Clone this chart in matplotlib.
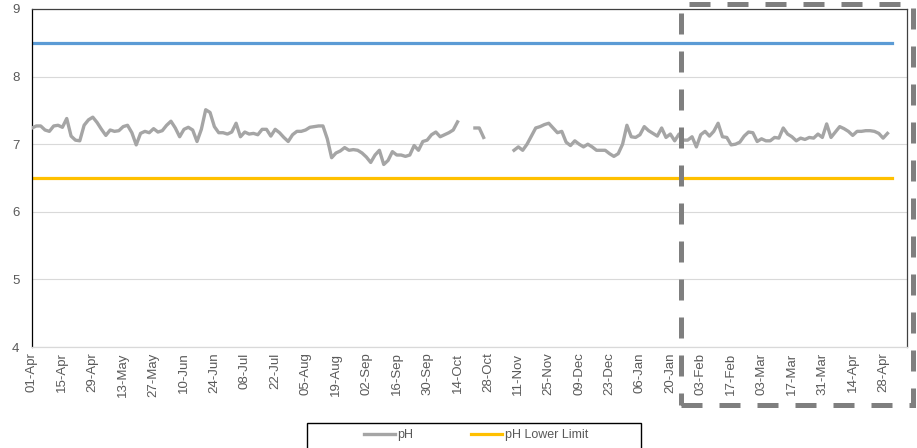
import matplotlib
matplotlib.use('Agg')
import matplotlib.pyplot as plt
import matplotlib.dates as mdates
from matplotlib.patches import Rectangle
import numpy as np
import pandas as pd

start_date = '2018-04-01'
last_date = '2019-05-02'
axis_end = '2019-05-09'
highlight_start = '2019-01-25'
ph_upper = 8.5
ph_lower = 6.5

# pH readings, one every 2 days from start_date (None = no reading)
ph = [
    7.24, 7.27, 7.27, 7.21, 7.19, 7.27, 7.28, 7.25, 7.38, 7.12,
    7.06, 7.05, 7.28, 7.36, 7.40, 7.32, 7.22, 7.13, 7.21, 7.19,
    7.20, 7.26, 7.28, 7.17, 6.99, 7.16, 7.19, 7.17, 7.23, 7.18,
    7.20, 7.28, 7.34, 7.24, 7.11,
    7.22, 7.25, 7.21, 7.04, 7.22, 7.51, 7.47, 7.26, 7.17, 7.17,
    7.15, 7.18, 7.31, 7.11, 7.18, 7.15, 7.16, 7.14, 7.22, 7.22,
    7.12, 7.22, 7.17, 7.10, 7.04, 7.14, 7.19, 7.19, 7.21, 7.25,
    7.26, 7.27, 7.27,
    7.08, 6.80, 6.87, 6.90, 6.95, 6.91, 6.92, 6.91, 6.87, 6.81,
    6.73, 6.84, 6.91, 6.70, 6.76, 6.89, 6.84, 6.84, 6.82, 6.84,
    6.98, 6.91, 7.04, 7.06, 7.14, 7.18, 7.11, 7.14, 7.17, 7.21,
    7.33,
    None, None, None,
    7.24, 7.24, 7.10,
    None, None, None, None, None, None,
    6.91, 6.96, 6.91, 7.00, 7.12, 7.24, 7.26, 7.29, 7.31, 7.24,
    7.17, 7.19, 7.03, 6.98, 7.05, 7.00, 6.96, 7.00, 6.96, 6.91,
    6.91, 6.91, 6.86, 6.82,
    6.86, 7.00, 7.28, 7.11, 7.10, 7.14, 7.26, 7.20, 7.16, 7.12,
    7.24, 7.10, 7.15, 7.05, 7.15, 7.06, 7.06, 7.11, 6.96, 7.14,
    7.19, 7.12, 7.19, 7.31, 7.11, 7.10, 6.99, 7.00, 7.03, 7.12,
    7.18, 7.17, 7.04, 7.08, 7.05, 7.05, 7.10, 7.09, 7.24, 7.15,
    7.11, 7.05, 7.09, 7.07, 7.10, 7.09, 7.15, 7.10, 7.30, 7.10,
    7.18, 7.26, 7.23, 7.19, 7.13, 7.19, 7.19, 7.20, 7.20, 7.19,
    7.16, 7.09, 7.16,
]

dates = pd.date_range(start_date, periods=len(ph), freq='2D')
ph = np.array(ph, dtype=float)
limit_x = [pd.Timestamp(start_date), pd.Timestamp(last_date)]

plt.rcParams['font.family'] = ['Liberation Sans', 'DejaVu Sans']
text_col = '#595959'

fig = plt.figure(figsize=(9.17, 4.48), dpi=100)
ax = fig.add_axes([32 / 917, 1 - 347 / 448, 875 / 917, 338 / 448])

# series
ax.plot(dates, ph, color='#a5a5a5', lw=2.4, label='pH', zorder=3)
ax.plot(limit_x, [ph_upper, ph_upper], color='#5b9bd5', lw=2.3,
        label='pH Upper Limit', zorder=2)
ax.plot(limit_x, [ph_lower, ph_lower], color='#ffc000', lw=2.3,
        label='pH Lower Limit', zorder=2)

# axes
ax.set_ylim(4, 9)
ax.set_yticks(range(4, 10))
ax.set_xlim(pd.Timestamp(start_date), pd.Timestamp(axis_end))
ax.set_xticks(pd.date_range(start_date, axis_end, freq='14D'))
ax.xaxis.set_major_formatter(mdates.DateFormatter('%d-%b'))
ax.tick_params(axis='x', rotation=90, length=0, pad=4, labelsize=9.5,
               labelcolor=text_col)
ax.tick_params(axis='y', length=0, pad=9, labelsize=9.5, labelcolor=text_col)
ax.grid(axis='y', color='#d9d9d9', lw=0.8)
ax.set_axisbelow(True)
ax.spines['left'].set_color('black')
ax.spines['bottom'].set_color('#d9d9d9')
ax.spines['top'].set_color('#404040')
ax.spines['right'].set_color('#404040')
for s in ax.spines.values():
    s.set_linewidth(0.9)

# dashed highlight box
fig.canvas.draw()
x_disp = ax.transData.transform(
    (mdates.date2num(pd.Timestamp(highlight_start)), 0))[0]
left = fig.transFigure.inverted().transform((x_disp, 0))[0]
right = 913 / 917
top = 1 - 4 / 448
bottom = 1 - 405 / 448
box = Rectangle((left, bottom), right - left, top - bottom,
                transform=fig.transFigure, fill=False, edgecolor='#7f7f7f',
                lw=3.6, linestyle=(0, (4.2, 3.4)), clip_on=False, zorder=10)
fig.patches.append(box)

# legend
handles, labels = ax.get_legend_handles_labels()
keep = [0, 2]
leg = fig.legend([handles[i] for i in keep], [labels[i] for i in keep],
                 loc='center', bbox_to_anchor=(476 / 917, 1 - 435 / 448),
                 ncol=2, frameon=False, fontsize=9, handlelength=2.5,
                 handletextpad=0.2, columnspacing=4.6)
for t in leg.get_texts():
    t.set_color(text_col)
leg_box = Rectangle((307 / 917, -0.05), 334 / 917, 0.05 + 25 / 448,
                    transform=fig.transFigure, fill=False, edgecolor='black',
                    lw=1.0, clip_on=False)
fig.patches.append(leg_box)

fig.savefig('out.png', dpi=100)
